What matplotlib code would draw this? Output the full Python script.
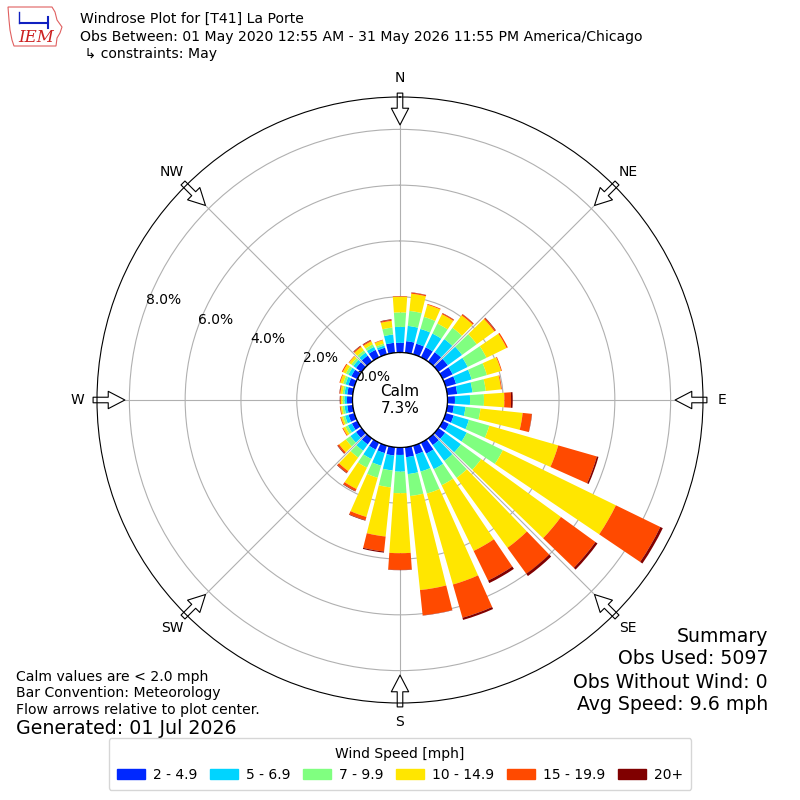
import numpy as np
import matplotlib
matplotlib.use('Agg')
import matplotlib.pyplot as plt
from matplotlib.patches import Patch, Polygon

# wind direction bins (deg, meteorological) and speed bins
directions = np.arange(0, 360, 10)
speed_bins = ['2 - 4.9', '5 - 6.9', '7 - 9.9', '10 - 14.9', '15 - 19.9', '20+']
colors = ['#0028ff', '#00d4ff', '#80ff80', '#ffe600', '#ff4a00', '#800000']
compass = ['N', 'NE', 'E', 'SE', 'S', 'SW', 'W', 'NW']

# percent of observations per direction, one list per speed bin
spd_2_5 = [0.35, 0.42, 0.40, 0.40, 0.42, 0.42, 0.40, 0.39, 0.36, 0.27, 0.24, 0.30,
           0.25, 0.30, 0.30, 0.44, 0.33, 0.36, 0.27, 0.30, 0.28, 0.28, 0.27, 0.25,
           0.22, 0.22, 0.20, 0.20, 0.20, 0.22, 0.24, 0.25, 0.27, 0.30, 0.25, 0.36]
spd_5_7 = [0.57, 0.55, 0.55, 0.55, 0.58, 0.63, 0.60, 0.58, 0.55, 0.54, 0.42, 0.57,
           0.71, 0.70, 0.70, 0.62, 0.64, 0.61, 0.60, 0.54, 0.47, 0.37, 0.28, 0.25,
           0.16, 0.13, 0.10, 0.09, 0.10, 0.11, 0.12, 0.12, 0.13, 0.12, 0.08, 0.30]
spd_7_10 = [0.52, 0.54, 0.45, 0.40, 0.50, 0.65, 0.75, 0.57, 0.48, 0.50, 0.54, 0.76,
            1.44, 0.90, 0.75, 0.64, 0.82, 0.79, 0.77, 0.61, 0.45, 0.35, 0.30, 0.20,
            0.10, 0.08, 0.08, 0.07, 0.07, 0.09, 0.10, 0.09, 0.10, 0.10, 0.07, 0.25]
spd_10_15 = [0.56, 0.62, 0.45, 0.37, 0.55, 0.78, 0.80, 0.53, 0.55, 0.73, 1.52, 2.57,
             4.51, 3.53, 3.10, 2.62, 3.39, 3.39, 2.15, 1.77, 1.46, 0.85, 0.60, 0.30,
             0.09, 0.07, 0.06, 0.06, 0.08, 0.11, 0.12, 0.10, 0.15, 0.12, 0.13, 0.24]
spd_15_20 = [0.02, 0.04, 0.03, 0.04, 0.05, 0.05, 0.05, 0.03, 0.03, 0.24, 0.33, 1.44,
             1.77, 1.53, 1.15, 1.18, 1.24, 0.91, 0.60, 0.54, 0.12, 0.08, 0.08, 0.06,
             0.03, 0.03, 0.03, 0.03, 0.03, 0.03, 0.04, 0.02, 0.04, 0.04, 0.02, 0.04]
spd_20 = [0.00, 0.01, 0.00, 0.01, 0.01, 0.02, 0.00, 0.00, 0.00, 0.06, 0.01, 0.06,
          0.10, 0.09, 0.10, 0.10, 0.08, 0.01, 0.01, 0.04, 0.02, 0.02, 0.02, 0.02,
          0.00, 0.00, 0.00, 0.01, 0.01, 0.00, 0.00, 0.00, 0.02, 0.02, 0.00, 0.02]
calm_pct = 7.3

fig = plt.figure(figsize=(8, 8), dpi=100)

# header + logo
fig.text(0.1, 1 - 19 / 800, 'Windrose Plot for [T41] La Porte', fontsize=10.1, va='center')
fig.text(0.1, 1 - 37 / 800, 'Obs Between: 01 May 2020 12:55 AM - 31 May 2026 11:55 PM America/Chicago',
         fontsize=10.1, va='center')
fig.text(0.1, 1 - 54 / 800, ' \u21b3 constraints: May', fontsize=10.1, va='center')

iowa = [(8, 7), (52, 7), (55, 12), (57, 20), (62, 27), (60, 33), (57, 38), (56, 46),
        (14, 46), (12, 40), (10, 30), (9, 20), (8, 7)]
fig.patches.append(Polygon([(x / 800, 1 - y / 800) for x, y in iowa], closed=True,
                           fc='none', ec='#e06060', lw=0.8, transform=fig.transFigure))
fig.text(36 / 800, 1 - 37 / 800, 'IEM', fontsize=12, color='#cc2020', style='italic',
         family='DejaVu Serif', ha='center', va='center')
fig.lines.append(plt.Line2D([20 / 800, 48 / 800], [1 - 23 / 800, 1 - 23 / 800],
                            color='#1020c0', lw=1.5, transform=fig.transFigure))
fig.lines.append(plt.Line2D([48 / 800, 48 / 800], [1 - 17 / 800, 1 - 28 / 800],
                            color='#1020c0', lw=1.5, transform=fig.transFigure))
fig.lines.append(plt.Line2D([19 / 800, 19 / 800], [1 - 12 / 800, 1 - 23 / 800],
                            color='#1020c0', lw=1, transform=fig.transFigure))

# polar axes with a calm hole in the middle
ax = fig.add_axes([0.12125, 0.12125, 0.7575, 0.7575], projection='polar')
ax.set_theta_zero_location('N')
ax.set_theta_direction(-1)
ax.set_ylim(0, 9.16)
ax.set_rorigin(-1.70)

theta = np.radians(directions)
bottom = np.zeros(len(directions))
for vals, c in zip([spd_2_5, spd_5_7, spd_7_10, spd_10_15, spd_15_20, spd_20], colors):
    ax.bar(theta, vals, width=np.radians(8), bottom=bottom, color=c,
           edgecolor='none', align='center', zorder=2)
    bottom += np.array(vals)

ax.set_yticks([0, 2, 4, 6, 8])
ax.set_yticklabels(['0.0%', '2.0%', '4.0%', '6.0%', '8.0%'], fontsize=10)
ax.set_rlabel_position(290)
ax.set_thetagrids(range(0, 360, 45), compass, fontsize=10)
ax.tick_params(axis='x', pad=3.5)
ax.grid(True, color='#b0b0b0', lw=0.8)
ax.set_axisbelow(True)

# calm circle
ring = np.linspace(0, 2 * np.pi, 361)
ax.plot(ring, np.zeros_like(ring), color='black', lw=1, zorder=4)
ax.text(0.5, 0.5, 'Calm\n%.1f%%' % calm_pct, transform=ax.transAxes,
        ha='center', va='center', fontsize=11, zorder=5)

# flow arrows
for ang in range(0, 360, 45):
    ax.annotate('', xy=(np.radians(ang), 8.16), xytext=(np.radians(ang), 9.30),
                arrowprops=dict(arrowstyle='simple,head_length=1.2,head_width=1.25,tail_width=0.4',
                                fc='white', ec='black', lw=0.8, shrinkA=0, shrinkB=0,
                                mutation_scale=10),
                annotation_clip=False, zorder=1)

# footer text
fig.text(16 / 800, 1 - 677 / 800, 'Calm values are < 2.0 mph', fontsize=10.1, va='center')
fig.text(16 / 800, 1 - 693 / 800, 'Bar Convention: Meteorology', fontsize=10.1, va='center')
fig.text(16 / 800, 1 - 710 / 800, 'Flow arrows relative to plot center.', fontsize=10.1, va='center')
fig.text(16 / 800, 1 - 729 / 800, 'Generated: 01 Jul 2026', fontsize=13.7, va='center')

summary = ['Summary', 'Obs Used: 5097', 'Obs Without Wind: 0', 'Avg Speed: 9.6 mph']
for i, line in enumerate(summary):
    fig.text(768 / 800, 1 - (636 + 23 * i) / 800, line, fontsize=13.6, ha='right', va='center')

handles = [Patch(color=c) for c in colors]
fig.legend(handles, speed_bins, loc='lower center', bbox_to_anchor=(0.5, 0.004), ncol=6,
           title='Wind Speed [mph]', fontsize=10, title_fontsize=10,
           columnspacing=0.9, handletextpad=0.6, borderpad=0.6)

fig.savefig('out.png', dpi=100)
